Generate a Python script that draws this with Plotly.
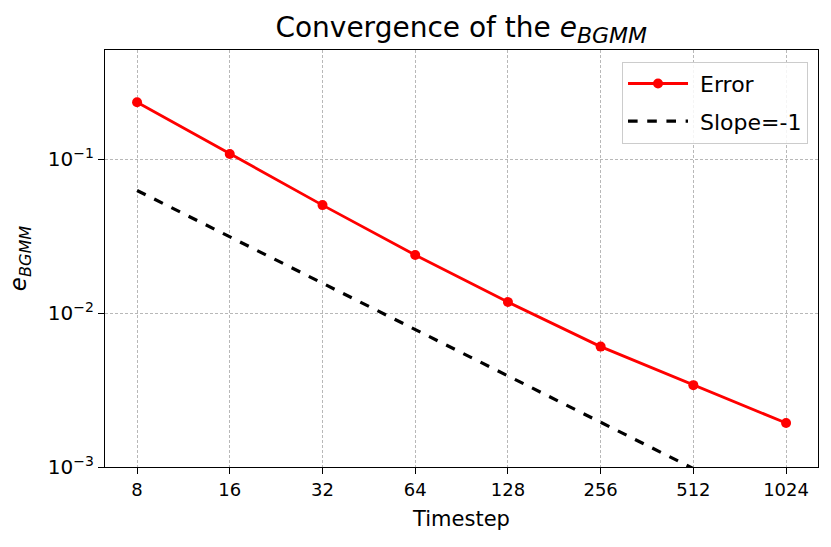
import plotly.graph_objects as go

timesteps = [8, 16, 32, 64, 128, 256, 512, 1024]
error_vals = [0.234, 0.1077, 0.0502, 0.0238, 0.01178, 0.00605, 0.0034, 0.00193]
slope_vals = [0.5 / t for t in timesteps]
x_tick_labels = ["8", "16", "32", "64", "128", "256", "512", "1024"]
y_tick_vals = [1e-3, 1e-2, 1e-1]
y_tick_labels = ["10<sup>−3</sup>", "10<sup>−2</sup>", "10<sup>−1</sup>"]

fig = go.Figure()
fig.add_trace(go.Scatter(
    x=timesteps, y=error_vals, mode="lines+markers", name=" Error",
    legendgroup="a",
    line=dict(color="red", width=2.8),
    marker=dict(color="red", size=10),
))
fig.add_trace(go.Scatter(
    x=timesteps, y=slope_vals, mode="lines", name=" Slope=-1",
    legendgroup="b",
    line=dict(color="black", width=3.2, dash="dash"),
))

font_family = "DejaVu Sans, sans-serif"
fig.update_layout(
    width=831, height=547,
    margin=dict(l=105, r=13, t=50, b=80),
    paper_bgcolor="white", plot_bgcolor="white",
    font=dict(family=font_family, color="black", size=17),
    title=dict(text="Convergence of the <i>e<sub><span style='font-size:22px'>BGMM</span></sub></i>",
               x=0.555, xanchor="center",
               y=0.95, yanchor="middle", font=dict(size=28, color="black")),
    showlegend=True,
    legend=dict(x=0.986, y=0.972, xanchor="right", yanchor="top",
                bgcolor="rgba(255,255,255,0.85)", bordercolor="#cccccc", borderwidth=1,
                font=dict(size=22), itemwidth=60, tracegroupgap=6),
)
grid_kw = dict(showgrid=True, gridcolor="#b8b8b8", griddash="3px,2px", gridwidth=0.8)
fig.update_xaxes(
    type="log", range=[0.799, 3.114],
    tickvals=timesteps, ticktext=x_tick_labels,
    showline=True, linecolor="black", linewidth=1.3, mirror=True,
    ticks="outside", ticklen=6, tickcolor="black",
    tickfont=dict(size=18),
    title=dict(text="Timestep", font=dict(size=21), standoff=12),
    zeroline=False, automargin=False, **grid_kw,
)
fig.update_yaxes(
    type="log", range=[-3, -0.292],
    tickvals=y_tick_vals, ticktext=y_tick_labels,
    showline=True, linecolor="black", linewidth=1.3, mirror=True,
    ticks="outside", ticklen=6, tickcolor="black",
    tickfont=dict(size=20),
    title=dict(text="<i>e<sub>BGMM</sub></i>", font=dict(size=23), standoff=14),
    zeroline=False, automargin=False, **grid_kw,
)

fig.write_html("out.html", config={"displayModeBar": False},
               post_script="document.body.style.margin='0';")
